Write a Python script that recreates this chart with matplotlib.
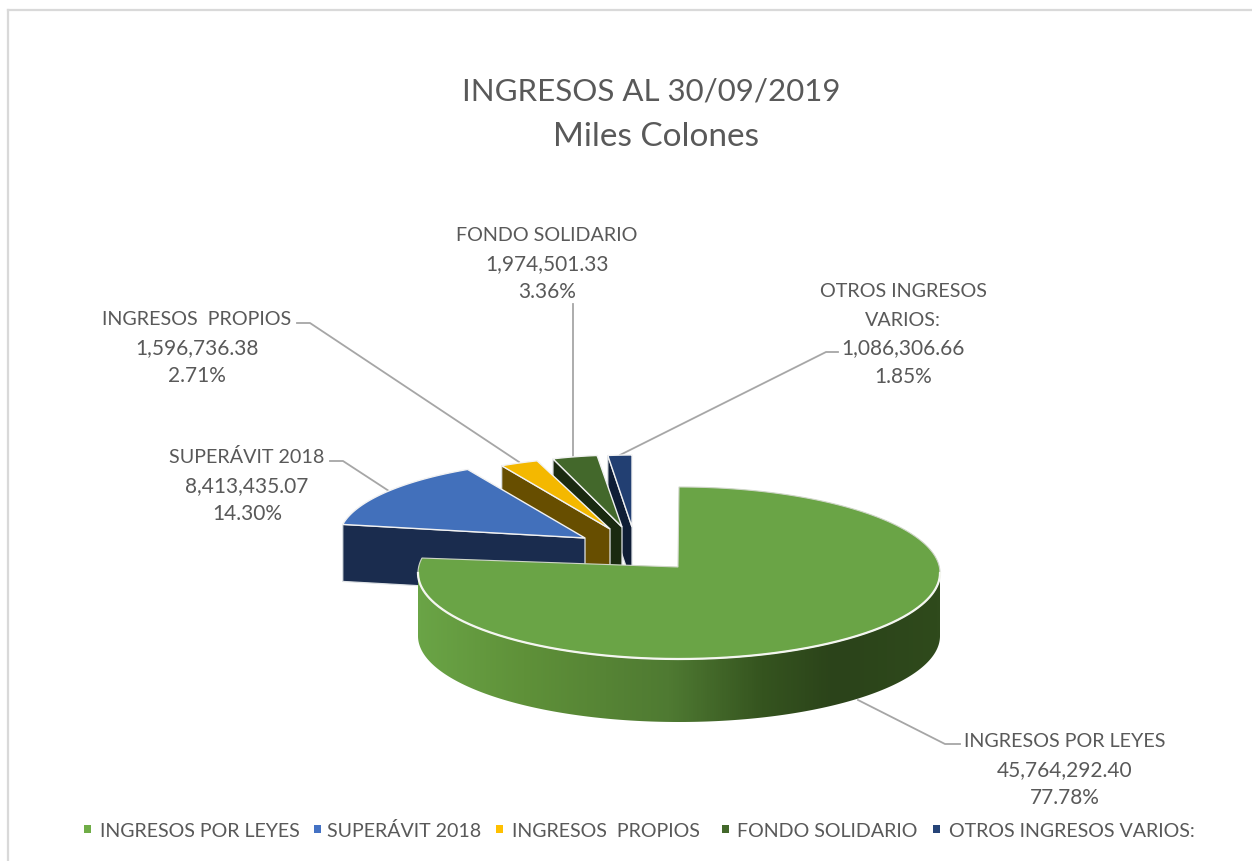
import numpy as np
import matplotlib
matplotlib.use('Agg')
from matplotlib import pyplot as plt
from matplotlib.colors import LinearSegmentedColormap
from matplotlib.patches import Polygon, Rectangle

# data
categories = ['INGRESOS POR LEYES', 'SUPERÁVIT 2018', 'INGRESOS  PROPIOS',
              'FONDO SOLIDARIO', 'OTROS INGRESOS VARIOS:']
values = [45764292.40, 8413435.07, 1596736.38, 1974501.33, 1086306.66]
percents = ['77.78%', '14.30%', '2.71%', '3.36%', '1.85%']
title_lines = ['INGRESOS AL 30/09/2019', 'Miles Colones']

# look
top_colors = ['#6aa446', '#4270bb', '#f4b800', '#43682b', '#223f72']
wall_colors = ['#2b431a', '#1a2c4e', '#674e00', '#1a2a10', '#0f1d36']
legend_colors = ['#70ad47', '#4472c4', '#ffc000', '#43682b', '#264478']
text_color = '#595959'
line_color = '#a6a6a6'

# slice layout in pixels: tip of slice, x radius, y radius, ellipse shift from tip
tips = [(678, 568), (585, 539), (610, 530), (622, 528), (632, 528)]
radii_x = [261, 246, 227, 215, 209]
radii_y = [86, 78, 72, 72, 72]
shift_x = [1, 0, 0, 0, 0]
shift_y = [6, 0, 0, 0, 0]
depth = 57
main_depth = 63

plt.rcParams['font.family'] = ['Lato', 'DejaVu Sans']
fig = plt.figure(figsize=(12.52, 8.62), dpi=100)
ax = fig.add_axes([0, 0, 1, 1])
ax.axis('off')

# chart frame
ax.plot([8, 8], [862, 11], color='#d9d9d9', lw=1.6)
ax.plot([8, 1252], [11, 11], color='#d9d9d9', lw=1.6)

# angles clockwise from 12 o'clock
fractions = np.array(values) / sum(values)
edges = np.concatenate([[0], np.cumsum(fractions) * 2 * np.pi])


def arc_points(i, a0, a1, n=120):
    a = np.linspace(a0, a1, n)
    x = tips[i][0] + shift_x[i] + radii_x[i] * np.sin(a)
    y = tips[i][1] + shift_y[i] - radii_y[i] * np.cos(a)
    return np.column_stack([x, y])


# small exploded slices, back to front so each covers the wall of the one behind
for i in [4, 3, 2, 1]:
    arc = arc_points(i, edges[i], edges[i + 1])
    tip = np.array(tips[i], dtype=float)
    corner = arc[0]
    wall = [corner, tip, tip + [0, depth], corner + [0, depth]]
    ax.add_patch(Polygon(wall, closed=True, fc=wall_colors[i], ec='#dfe3e6', lw=0.9, zorder=3 + (4 - i) * 2))
    ax.add_patch(Polygon(np.vstack([tip, arc]), closed=True, fc=top_colors[i], ec='#f2f2f2', lw=1.0,
                         zorder=4 + (4 - i) * 2))

# side of the big slice, shaded left to right
shade = LinearSegmentedColormap.from_list('shade', [(0.0, '#6aa446'), (0.2, '#5f9139'), (0.48, '#4f7a32'),
                                                    (0.66, '#35541f'), (0.8, '#2b431a'), (1.0, '#2f4a1c')])
rim = arc_points(0, np.pi / 2, 3 * np.pi / 2, 400)
side = Polygon(np.vstack([rim, (rim + [0, main_depth])[::-1]]), closed=True, fc='none', ec='none')
ax.add_patch(side)
gradient = ax.imshow(np.linspace(0, 1, 522)[None, :], cmap=shade, aspect='auto', zorder=14,
                     extent=(418, 940, 740, 560))
gradient.set_clip_path(side)

# top of the big slice
arc = arc_points(0, edges[0], edges[1], 400)
tip = np.array(tips[0], dtype=float)
ax.add_patch(Polygon(np.vstack([tip, arc]), closed=True, fc=top_colors[0], ec='#cfd6c8', lw=0.8, zorder=15))
ax.plot(rim[:, 0], rim[:, 1], color='#f4f6f0', lw=1.6, zorder=16)

# leader lines
leaders = [[(960, 745), (945, 745), (858, 701)],
           [(330, 462), (343, 462), (392, 494)],
           [(297, 324), (310, 324), (519, 463)],
           [(573, 305), (573, 457)],
           [(838, 353), (826, 353), (620, 456)]]
for pts in leaders:
    xs, ys = zip(*pts)
    ax.plot(xs, ys, color=line_color, lw=1.3, zorder=2)

# data labels
label_centers = [(1065, 747), (247, 463), (197, 325), (547, 241), (903, 297)]
label_names = [[categories[0]], [categories[1]], [categories[2]], [categories[3]], ['OTROS INGRESOS', 'VARIOS:']]
for i, (cx, cy) in enumerate(label_centers):
    names = label_names[i]
    lines = names + ['{:,.2f}'.format(values[i]), percents[i]]
    for k, line in enumerate(lines):
        size = 14.2 if k < len(names) else 15
        ax.text(cx, cy + k * 28.6, line, ha='center', va='baseline', fontsize=size, color=text_color, zorder=20)

# title
ax.text(651, 101, title_lines[0], ha='center', va='baseline', fontsize=22.5, color=text_color)
ax.text(656, 146, title_lines[1], ha='center', va='baseline', fontsize=24, color=text_color)

# legend
legend_x = [100, 327, 512, 737, 949]
marker_x = [87, 317, 499, 725, 936]
for i in range(5):
    ax.add_patch(Rectangle((marker_x[i] - 3.5, 826), 7, 8, fc=legend_colors[i], ec='none'))
    ax.text(legend_x[i], 837, categories[i], ha='left', va='baseline', fontsize=14.1, color=text_color)

ax.set_xlim(0, 1252)
ax.set_ylim(862, 0)
fig.savefig('out.png', dpi=100, facecolor='white')
